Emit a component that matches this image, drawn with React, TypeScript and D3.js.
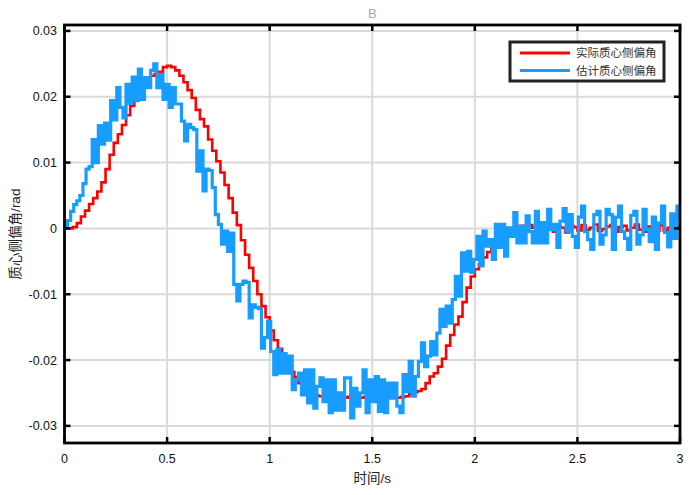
import React from "react";
import * as d3 from "d3";

const DT_ACTUAL = 0.02;
const DT_EST = 0.015;

const actualBeta = [
  0, 0, 0.0002, 0.0008, 0.0018, 0.0027, 0.0037, 0.0046, 0.0056, 0.007,
  0.009, 0.0112, 0.013, 0.0143, 0.0157, 0.0172, 0.0186, 0.02, 0.0212, 0.022,
  0.0228, 0.0232, 0.0235, 0.0238, 0.0245, 0.0247, 0.0245, 0.024, 0.0232, 0.0222,
  0.021, 0.0198, 0.018, 0.0166, 0.0155, 0.0135, 0.0118, 0.0102, 0.0085, 0.0066,
  0.0046, 0.0024, 0.0005, -0.0018, -0.004, -0.006, -0.008, -0.01, -0.0118, -0.0135,
  -0.0155, -0.017, -0.0183, -0.0195, -0.0207, -0.0218, -0.0226, -0.0235, -0.0242, -0.0248,
  -0.0252, -0.0254, -0.0255, -0.0256, -0.0257, -0.0258, -0.0257, -0.0258, -0.0257, -0.0256,
  -0.0257, -0.0258, -0.0257, -0.0256, -0.0257, -0.0258, -0.0256, -0.0257, -0.0258, -0.0257,
  -0.0256, -0.0257, -0.0256, -0.0255, -0.0252, -0.0249, -0.0247, -0.0244, -0.0235, -0.0225,
  -0.022, -0.021, -0.0198, -0.0178, -0.0162, -0.0146, -0.0134, -0.0112, -0.009, -0.0073,
  -0.0062, -0.0054, -0.0044, -0.0036, -0.0028, -0.002, -0.0013, -0.0008, -0.0004, 0,
  0.0003, 0.0004, -0.0002, 0.0005, 0.0001, -0.0004, 0.0002, 0.0006, -0.0001, -0.0005,
  0.0003, 0.0001, -0.0006, 0.0004, 0.0002, -0.0003, 0.0005, -0.0002, 0.0001, 0.0006,
  -0.0004, -0.0001, 0.0003, 0.0005, -0.0005, 0.0002, 0.0004, -0.0003, 0.0001, 0.0006,
  -0.0002, -0.0005, 0.0003, 0.0002, -0.0004, 0.0005, -0.0003, 0.0001, -0.0006, 0.0004,
  0.0002,
];

const estimatedBeta = [
  0, 0.0012, 0.0026, 0.0036, 0.0042, 0.005, 0.0068, 0.009, 0.0094, 0.0135,
  0.01, 0.0156, 0.0128, 0.016, 0.0134, 0.0194, 0.0165, 0.0214, 0.0184, 0.0168,
  0.0219, 0.019, 0.023, 0.0194, 0.0242, 0.0196, 0.0229, 0.0214, 0.024, 0.025,
  0.0214, 0.0234, 0.0196, 0.0219, 0.0184, 0.0214, 0.0189, 0.0189, 0.0163, 0.0133,
  0.0158, 0.0153, 0.015, 0.0087, 0.0118, 0.0057, 0.009, 0.0088, 0.0062, 0.0021,
  0.0006, -0.0024, -0.0004, -0.0035, -0.0007, -0.0085, -0.011, -0.0085, -0.008, -0.0082,
  -0.0136, -0.0116, -0.012, -0.0122, -0.0182, -0.0166, -0.0141, -0.0187, -0.0222, -0.0184,
  -0.022, -0.019, -0.022, -0.0194, -0.0245, -0.023, -0.022, -0.0253, -0.0215, -0.0265,
  -0.0215, -0.0273, -0.024, -0.0227, -0.0263, -0.023, -0.028, -0.023, -0.0276, -0.025,
  -0.0276, -0.0227, -0.0227, -0.0288, -0.0243, -0.027, -0.025, -0.0215, -0.028, -0.023,
  -0.0263, -0.0225, -0.0278, -0.023, -0.028, -0.0235, -0.0258, -0.0235, -0.027, -0.028,
  -0.0222, -0.0248, -0.0202, -0.0255, -0.0225, -0.0202, -0.0174, -0.021, -0.0194, -0.0172,
  -0.0192, -0.0159, -0.0123, -0.0149, -0.0118, -0.0144, -0.0108, -0.0073, -0.0103, -0.0037,
  -0.0065, -0.0035, -0.0067, -0.0047, -0.0012, -0.0057, -0.0004, -0.0027, -0.0017, -0.0047,
  0.0006, -0.0029, 0.0006, -0.0042, 0.0001, -0.0012, 0.0024, -0.0022, 0.0003, -0.0022,
  0.0019, -0.0005, -0.0022, 0.0026, -0.0022, 0.0009, -0.0022, 0.0029, -0.0002, 0.0006,
  -0.0029, 0.0011, 0.003, -0.0004, 0.0021, -0.0012, -0.0029, 0.0017, 0.0034, -0.0005,
  -0.0017, -0.0032, 0.0021, 0.0026, -0.0024, -0.001, 0.0029, 0.0021, -0.0032, 0.0017,
  0.0034, -0.0005, -0.0015, -0.0032, 0.002, 0.0026, -0.0024, -0.001, 0.0029, -0.0002,
  -0.002, 0.0017, -0.0032, 0.0008, 0.0034, -0.0006, -0.0028, 0.0022, -0.0015, 0.0034,
  0.001,
];

const xTicks = [0, 0.5, 1, 1.5, 2, 2.5, 3];
const xTickLabels = ["0", "0.5", "1", "1.5", "2", "2.5", "3"];
const yTicks = [-0.03, -0.02, -0.01, 0, 0.01, 0.02, 0.03];
const yTickLabels = ["-0.03", "-0.02", "-0.01", "0", "0.01", "0.02", "0.03"];
const seriesNames = ["实际质心侧偏角", "估计质心侧偏角"];
const seriesColors = ["#ff0000", "#169dff"];

const W = 700;
const H = 495;
const L = 64.5;
const R = 680;
const T = 25;
const B = 443;

export default function App() {
  const x = d3.scaleLinear().domain([0, 3]).range([L, R]);
  const y = d3.scaleLinear().domain([-0.0326, 0.0309]).range([B, T]);
  const mk = (vals: number[], dt: number) =>
    d3
      .line<number>()
      .x((_, i) => x(i * dt))
      .y((v) => y(v))
      .curve(d3.curveStepAfter)(vals) || "";
  const font = "'Liberation Sans', Arial, 'Noto Sans CJK SC', sans-serif";
  const cjk = "'Noto Sans CJK SC', sans-serif";
  return (
    <svg
      width={W}
      height={H}
      style={{ position: "absolute", left: 0, top: 0, background: "#fff" }}
    >
      <defs>
        <clipPath id="plotclip">
          <rect x={L} y={T} width={R - L} height={B - T} />
        </clipPath>
      </defs>
      <rect x={0} y={0} width={W} height={H} fill="#fff" />
      {xTicks.map((t) => (
        <line key={"gx" + t} x1={x(t)} x2={x(t)} y1={T} y2={B} stroke="#dadada" strokeWidth={2} />
      ))}
      {yTicks.map((t) => (
        <line key={"gy" + t} x1={L} x2={R} y1={y(t)} y2={y(t)} stroke="#dadada" strokeWidth={2} />
      ))}
      <g clipPath="url(#plotclip)">
        <path d={mk(actualBeta, DT_ACTUAL)} fill="none" stroke={seriesColors[0]} strokeWidth={2.6} />
        <path d={mk(estimatedBeta, DT_EST)} fill="none" stroke={seriesColors[1]} strokeWidth={3.2} />
      </g>
      {xTicks.map((t) => (
        <g key={"tx" + t}>
          <line x1={x(t)} x2={x(t)} y1={B} y2={B - 6} stroke="#000" strokeWidth={2.5} />
          <line x1={x(t)} x2={x(t)} y1={T} y2={T + 6} stroke="#000" strokeWidth={2.5} />
        </g>
      ))}
      {yTicks.map((t) => (
        <g key={"ty" + t}>
          <line x1={L} x2={L + 6} y1={y(t)} y2={y(t)} stroke="#000" strokeWidth={2.5} />
          <line x1={R} x2={R - 6} y1={y(t)} y2={y(t)} stroke="#000" strokeWidth={2.5} />
        </g>
      ))}
      <rect x={L} y={T} width={R - L} height={B - T} fill="none" stroke="#000" strokeWidth={2.8} />
      {xTicks.map((t, i) => (
        <text key={"lx" + t} x={x(t)} y={463} textAnchor="middle" fontFamily={font} fontSize={12.5} fill="#111">
          {xTickLabels[i]}
        </text>
      ))}
      {yTicks.map((t, i) => (
        <text key={"ly" + t} x={57} y={y(t) + 4.5} textAnchor="end" fontFamily={font} fontSize={12.5} fill="#111">
          {yTickLabels[i]}
        </text>
      ))}
      <text x={(L + R) / 2} y={18} textAnchor="middle" fontFamily={font} fontSize={13} fill="#aaaaaa">
        B
      </text>
      <text x={(L + R) / 2} y={483} textAnchor="middle" fontFamily={font} fontSize={13.5} fill="#222">
        时间/s
      </text>
      <text
        transform={`translate(20, ${(T + B) / 2}) rotate(-90)`}
        textAnchor="middle"
        fontFamily={font}
        fontSize={13.5}
        fill="#222"
      >
        质心侧偏角/rad
      </text>
      <g>
        <rect x={510} y={42} width={154} height={39} fill="#fff" stroke="#222" strokeWidth={3} />
        {seriesNames.map((n, i) => (
          <g key={n}>
            <line x1={520} x2={570} y1={53 + i * 17.5} y2={53 + i * 17.5} stroke={seriesColors[i]} strokeWidth={3} />
            <text x={576} y={57 + i * 17.5} fontFamily={cjk} fontSize={11.5} fill="#333">
              {n}
            </text>
          </g>
        ))}
      </g>
    </svg>
  );
}
